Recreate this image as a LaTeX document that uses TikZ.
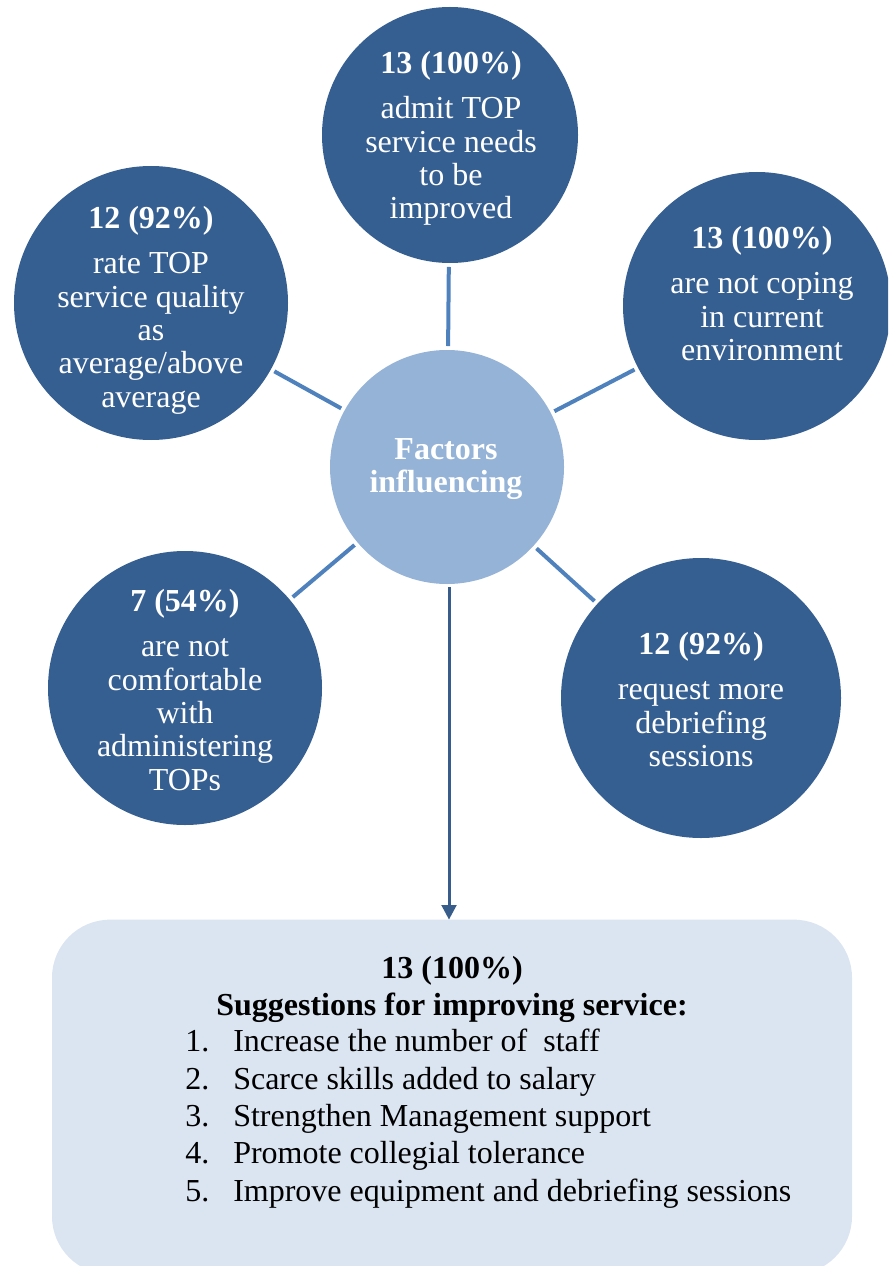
\documentclass[tikz,border=0pt]{standalone}
\usepackage{fontspec}
\setmainfont{Liberation Serif}
\usetikzlibrary{arrows.meta}
\definecolor{circdark}{HTML}{365F91}
\definecolor{circlight}{HTML}{95B3D7}
\definecolor{spoke}{HTML}{4F81BD}
\definecolor{arrowc}{HTML}{385D8A}
\definecolor{boxfill}{HTML}{DBE5F1}
\begin{document}
\begin{tikzpicture}[x=0.75pt,y=-0.75pt,
  outer/.style={circle, fill=circdark, minimum size=#1, inner sep=0pt, outer sep=0pt},
  hubc/.style={circle, fill=circlight, minimum size=#1, inner sep=0pt, outer sep=0pt},
  ctext/.style={text=white, align=center, inner sep=0pt, anchor=north,
    font=\fontsize{24}{25}\selectfont},
  spokeline/.style={draw=spoke, line width=3pt, shorten <=3pt, shorten >=3pt},
  boxtext/.style={text=black, inner sep=0pt, anchor=north,
    font=\fontsize{24}{28}\selectfont}]
\useasboundingbox (0,0) rectangle (888,1266);
\clip (0,0) rectangle (888,1266);

% circles
\node[outer=192pt]   (ctop)   at (450,135) {};
\node[outer=205.5pt] (cleft)  at (151,303) {};
\node[outer=201pt]   (cright) at (757,306) {};
\node[hubc=175.5pt]  (hub)    at (447,467) {};
\node[outer=205.5pt] (cbl)    at (185,688) {};
\node[outer=210pt]   (cbr)    at (701,698) {};

% circle texts
\node[ctext] (ttop) at (451,51) {\textbf{13 (100\%)}\\[9pt]admit TOP\\service needs\\to be\\improved};
\node[ctext] (tleft) at (151,206) {\textbf{12 (92\%)}\\[9pt]rate TOP\\service quality\\as\\average/above\\average};
\node[ctext] (tright) at (762,226) {\textbf{13 (100\%)}\\[9pt]are not coping\\in current\\environment};
\node[ctext, anchor=center] (thub) at (446,469) {\textbf{Factors}\\\textbf{influencing}};
\node[ctext] (tbl) at (185,589) {\textbf{7 (54\%)}\\[9pt]are not\\comfortable\\with\\administering\\TOPs};
\node[ctext] (tbr) at (701,632) {\textbf{12 (92\%)}\\[9pt]request more\\debriefing\\sessions};

% spokes
\draw[spokeline] (hub) -- (ctop);
\draw[spokeline] (hub) -- (cleft);
\draw[spokeline] (hub) -- (cright);
\draw[spokeline] (hub) -- (cbl);
\draw[spokeline] (hub) -- (cbr);

% suggestions box
\node[fill=boxfill, rounded corners=43.5pt, minimum width=600pt, minimum height=266pt,
  inner sep=0pt, outer sep=0pt] (box) at (452,1097) {};
\node[boxtext, align=center] (boxhead) at (452,956)
  {\textbf{13 (100\%)}\\\textbf{Suggestions for improving service:}};
\node[boxtext, anchor=north west, align=left] (boxlist) at (185,1029)
  {\makebox[36pt][l]{1.}Increase the number of \ staff\\
   \makebox[36pt][l]{2.}Scarce skills added to salary\\
   \makebox[36pt][l]{3.}Strengthen Management support\\
   \makebox[36pt][l]{4.}Promote collegial tolerance\\
   \makebox[36pt][l]{5.}Improve equipment and debriefing sessions};

% arrow to the box
\draw[arrowc, line width=2.25pt, -{Triangle[length=11pt, width=11pt]}]
  (hub.south) ++(2,3) coordinate (astart) (astart) -- (astart |- box.north);
\end{tikzpicture}
\end{document}
